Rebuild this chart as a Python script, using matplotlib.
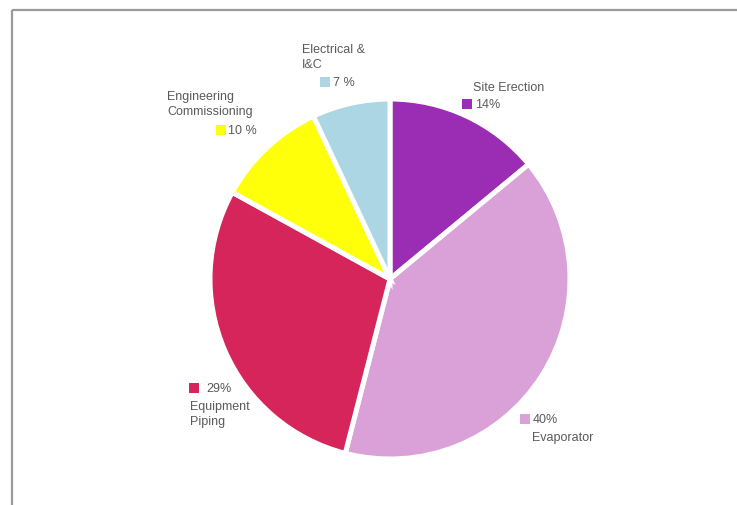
import matplotlib
matplotlib.use("Agg")
import matplotlib.pyplot as plt

# Cost breakdown by work package (percent of total)
categories = ["Site Erection", "Evaporator", "Equipment\nPiping",
              "Engineering\nCommissioning", "Electrical &\nI&C"]
shares = [14, 40, 29, 10, 7]
colors = ["#9a2db4", "#d9a1d8", "#d6255a", "#ffff0a", "#acd6e4"]
pct_fmt = ["{}%", "{}%", "{}%", "{} %", "{} %"]

W, H = 737, 506
fig = plt.figure(figsize=(W / 100, H / 100), dpi=100)
fig.patch.set_facecolor("white")

# Pie axes box in pixels (left, right, top, bottom)
left, right, top, bottom = 210, 570, 100, 460
pie_ax = fig.add_axes([left / W, 1 - bottom / H, (right - left) / W, (bottom - top) / H])
pie_ax.pie(shares, colors=colors, startangle=90, counterclock=False, radius=1,
           wedgeprops=dict(edgecolor="white", linewidth=3.6))
pie_ax.set_aspect("auto")
pie_ax.set_xlim(-1.0, 1.0)
pie_ax.set_ylim(-1.0, 1.0)
pie_ax.axis("off")

# Overlay in pixel coordinates (origin top-left) for frame and labels
ov = fig.add_axes([0, 0, 1, 1])
ov.set_zorder(5)
ov.patch.set_alpha(0)
ov.set_xlim(0, W)
ov.set_ylim(H, 0)
ov.axis("off")
ov.plot([12, 12], [H + 5, 11], color="#9a9a9a", lw=1.6, solid_capstyle="butt")
ov.plot([12, W + 5], [11, 11], color="#9a9a9a", lw=1.6, solid_capstyle="butt")

txt = dict(fontsize=9, color="#5a5a5a", family="Liberation Sans", va="center", ha="left")

# (name position, legend-square centre, value x)
label_layout = [
    ((473, 88), (467, 105), 475),
    ((532, 438), (525, 420), 533),
    ((190, 407), (194, 389), 206),
    ((167, 97), (221, 131), 228),
    ((302, 50), (325, 83), 333),
]

for name, val, col, fmt, (npos, spos, vx) in zip(categories, shares, colors, pct_fmt, label_layout):
    lines = name.split("\n")
    for i, ln in enumerate(lines):
        ov.text(npos[0], npos[1] + i * 15, ln, **txt)
    ov.plot([spos[0]], [spos[1]], marker="s", markersize=6.5, color=col,
            markeredgewidth=0, linestyle="none", zorder=6)
    ov.text(vx, spos[1], fmt.format(val), **txt)

fig.savefig("out.png", dpi=100, facecolor="white")
